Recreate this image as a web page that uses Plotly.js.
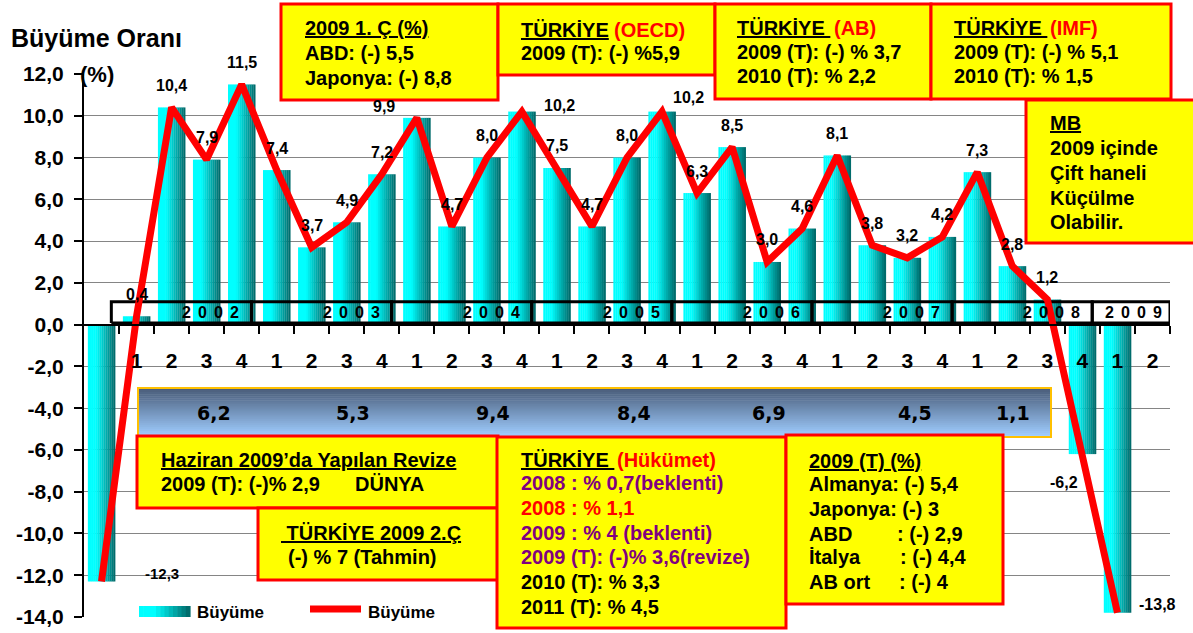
<!DOCTYPE html>
<html><head><meta charset="utf-8">
<script src="https://cdn.plot.ly/plotly-3.0.1.min.js"></script>
<style>html,body{margin:0;padding:0;background:#fff;}#chart{width:1193px;height:633px;}</style>
</head><body><div id="chart"></div>
<script>
// ---------------- DATA ----------------
const quarterLabels = ["", "1","2","3","4","1","2","3","4","1","2","3","4","1","2","3","4",
                       "1","2","3","4","1","2","3","4","1","2","3","4","1","2"];
const growth = [-12.3, 0.4, 10.4, 7.9, 11.5, 7.4, 3.7, 4.9, 7.2, 9.9, 4.7, 8.0, 10.2,
                7.5, 4.7, 8.0, 10.2, 6.3, 8.5, 3.0, 4.6, 8.1, 3.8, 3.2, 4.2, 7.3, 2.8, 1.2,
                -6.2, -13.8, null];
const yearLabels = ["2002","2003","2004","2005","2006","2007","2008","2009"];
const annualGrowth = [6.2, 5.3, 9.4, 8.4, 6.9, 4.5, 1.1];
const yTickVals = [-14,-12,-10,-8,-6,-4,-2,0,2,4,6,8,10,12];
const seriesName = "Büyüme";

// ---------------- GEOMETRY / STYLE ----------------
const W = 1193, H = 633, ML = 84, MT = 74, PW = 1086, PH = 543;
const px = p => (p - ML) / PW;
const py = p => (MT + PH - p) / PH;
const fmt = v => v.toFixed(1).replace('.', ',');
const FONT = 'Liberation Sans, Arial, sans-serif';
const idx = growth.map((_, i) => i);

// label offsets (px) for the data labels
const labelShift = {0: [60, 8], 9: [-33, 11], 12: [38, 6], 16: [26, 14], 28: [-18, -28], 29: [40, 8]};
const bandShift = [25, 24, 24, 25, 19, 25, -17];

const traces = [];
// gradient bars: stripes
const N = 14, BW = 0.78, sw = BW / N;
function tealShade(t) {
  const c = t < 0.3 ? 255 : Math.round(255 - (t - 0.3) / 0.7 * 155);
  return `rgb(0,${c},${c})`;
}
for (let i = 0; i < N; i++) {
  traces.push({
    type: 'bar', x: idx, y: growth, width: sw + 0.006, offset: -BW / 2 + i * sw,
    marker: {color: tealShade((i + 0.5) / N), line: {width: 0}},
    hoverinfo: 'skip', showlegend: false, name: seriesName
  });
}
// year boxes (outlines)
function yearBox(k) {
  const s = 1 + 4 * k, e = Math.min(s + 3, growth.length - 1);
  const last = k === yearLabels.length - 1;
  return [s - 0.5 - 0.22, last ? e + 0.5 : e + 0.5 - 0.22, last];
}
const bx = [], by = [];
yearLabels.forEach((y, k) => {
  const [x0, x1] = yearBox(k);
  bx.push(x0, x1, x1, x0, x0, null);
  by.push(0.08, 0.08, 1.1, 1.1, 0.08, null);
});
traces.push({type: 'scatter', mode: 'lines', x: bx, y: by, line: {color: '#000', width: 3},
  hoverinfo: 'skip', showlegend: false});
// red line
traces.push({type: 'scatter', mode: 'lines', x: idx, y: growth, name: seriesName,
  line: {color: '#FF0000', width: 7}, hoverinfo: 'skip', showlegend: false});

// ---------------- SHAPES ----------------
const shapes = [];
function rect(x0, y0, x1, y1, fill, line, lw) {
  shapes.push({type: 'rect', xref: 'paper', yref: 'paper', x0: px(x0), x1: px(x1), y0: py(y1), y1: py(y0),
    fillcolor: fill, line: {color: line || 'rgba(0,0,0,0)', width: lw || 0}, layer: 'above'});
}
// band gradient
const bandTop = 388, bandBot = 437, NS = 24;
for (let i = 0; i < NS; i++) {
  const t = i / (NS - 1);
  const r = Math.round(74 + t * (160 - 74)), g = Math.round(93 + t * (205 - 93)), b = Math.round(122 + t * (255 - 122));
  const y0 = bandTop + (bandBot - bandTop) * i / NS, y1 = bandTop + (bandBot - bandTop) * (i + 1) / NS + 0.6;
  rect(138, y0, 1051, y1, `rgb(${r},${g},${b})`);
}
rect(138, bandTop, 1051, bandBot, 'rgba(0,0,0,0)', '#FFC000', 2);
// yellow boxes
const Y = '#FFFF00', R = '#FF0000';
rect(281, 4, 498, 100, Y, R, 3);
rect(498, 4, 715, 75, Y, R, 3);
rect(715, 4, 931, 99, Y, R, 3);
rect(931, 4, 1171, 99, Y, R, 3);
rect(1026, 100, 1205, 243, Y, R, 3);
rect(137, 436, 498, 508, Y, R, 3);
rect(258, 508, 498, 580, Y, R, 3);
rect(497, 437, 786, 628, Y, R, 3);
rect(786, 435, 1003, 604, Y, R, 3);
// legend
rect(128, 597, 456, 626, '#FFFFFF');
const NL = 12;
for (let i = 0; i < NL; i++) {
  const x0 = 139 + 51 * i / NL, x1 = 139 + 51 * (i + 1) / NL + 0.6;
  rect(x0, 606, x1, 617, tealShade((i + 0.5) / NL));
}
shapes.push({type: 'line', xref: 'paper', yref: 'paper', x0: px(310), x1: px(361), y0: py(609), y1: py(609),
  line: {color: R, width: 7}, layer: 'above'});

// ---------------- ANNOTATIONS ----------------
const ann = [];
function txt(x, y, text, o) {
  o = o || {};
  ann.push({xref: 'paper', yref: 'paper', x: px(x), y: py(y), xanchor: o.xanchor || 'left', yanchor: 'middle',
    showarrow: false, text: text,
    font: {family: o.family || FONT, size: o.size || 20, weight: 'bold', color: o.color || '#000',
      lineposition: o.u ? 'under' : 'none'}});
}
const PUR = '#800080';
txt(9, 38, 'Büyüme Oranı', {size: 25});
txt(78, 74, '(%)', {size: 22});
// top boxes
txt(303, 28, '2009 1. Ç (%)', {u: 1});
txt(303, 53, 'ABD: (-) 5,5');
txt(303, 78, 'Japonya: (-) 8,8');
txt(519, 30, 'TÜRKİYE', {u: 1});
txt(612, 30, '(OECD)', {color: R});
txt(519, 53, '2009 (T): (-) %5,9');
txt(735, 28, 'TÜRKİYE\u00a0', {u: 1});
txt(832, 28, '(AB)', {color: R});
txt(735, 52, '2009 (T): (-) % 3,7');
txt(735, 76, '2010 (T): % 2,2');
txt(952, 28, 'TÜRKİYE\u00a0', {u: 1});
txt(1048, 28, '(IMF)', {color: R});
txt(952, 52, '2009 (T): (-) % 5,1');
txt(952, 76, '2010 (T): % 1,5');
txt(1048, 123, 'MB', {u: 1});
txt(1048, 148, '2009 içinde');
txt(1048, 173, 'Çift haneli');
txt(1048, 198, 'Küçülme');
txt(1048, 222, 'Olabilir.');
// bottom boxes
txt(159, 460, 'Haziran 2009’da Yapılan Revize', {u: 1});
txt(159, 484, '2009 (T): (-)% 2,9');
txt(353, 484, 'DÜNYA');
txt(279, 533, '\u00a0TÜRKİYE 2009 2.Ç', {u: 1});
txt(286, 557, '(-) % 7 (Tahmin)');
txt(519, 460, 'TÜRKİYE\u00a0', {u: 1});
txt(615, 460, '(Hükümet)', {color: R});
txt(519, 483, '2008 : % 0,7(beklenti)', {color: PUR});
txt(519, 508, '2008 : % 1,1', {color: R});
txt(519, 533, '2009 : % 4 (beklenti)', {color: PUR});
txt(519, 557, '2009 (T): (-)% 3,6(revize)', {color: PUR});
txt(519, 582, '2010 (T): % 3,3');
txt(519, 607, '2011 (T): % 4,5');
txt(807, 461, '2009 (T) (%)', {u: 1});
txt(807, 484, 'Almanya: (-) 5,4');
txt(807, 509, 'Japonya: (-) 3');
txt(807, 534, 'ABD');
txt(895, 534, ': (-) 2,9');
txt(807, 557, 'İtalya');
txt(898, 557, ': (-) 4,4');
txt(807, 582, 'AB ort');
txt(897, 582, ': (-) 4');
// legend texts
txt(195, 612, seriesName, {size: 17});
txt(366, 612, seriesName, {size: 17});

// data labels
growth.forEach((v, i) => {
  if (v === null) return;
  const s = labelShift[i] || [0, 22];
  ann.push({xref: 'x', yref: 'y', x: i, y: v, xshift: s[0], yshift: s[1], showarrow: false,
    text: fmt(v), xanchor: 'center', yanchor: 'middle',
    font: {family: FONT, size: i === 0 ? 15 : 16, weight: 'bold', color: '#000'}});
});
// year labels in boxes
yearLabels.forEach((y, k) => {
  const [x0, x1, last] = yearBox(k);
  ann.push({xref: 'x', yref: 'y', x: x1, y: 0.6, xshift: last ? -6 : -10, xanchor: 'right', yanchor: 'middle',
    showarrow: false, text: y.split('').join('\u2006 '),
    font: {family: FONT, size: 16, weight: 'bold', color: '#000'}});
});
// annual averages in band
annualGrowth.forEach((v, k) => {
  ann.push({xref: 'x', yref: 'paper', x: 2.5 + 4 * k, y: py(413), xshift: bandShift[k],
    xanchor: 'center', yanchor: 'middle', showarrow: false, text: fmt(v),
    font: {family: 'DejaVu Sans, Verdana, sans-serif', size: 19, weight: 'bold', color: '#000'}});
});

const boundaries = [];
for (let i = 0; i <= 30; i++) boundaries.push(i + 0.5);

const layout = {
  width: W, height: H,
  margin: {l: ML, r: W - ML - PW, t: MT, b: H - MT - PH, pad: 0},
  paper_bgcolor: '#fff', plot_bgcolor: '#fff', separators: ',.',
  barmode: 'overlay', showlegend: false,
  font: {family: FONT, color: '#000'},
  xaxis: {range: [-0.5, 30.5], anchor: 'free', position: 14 / 26, showline: true, linecolor: '#000',
    linewidth: 2, showgrid: false, zeroline: false, tickmode: 'array',
    tickvals: idx.slice(1), ticktext: quarterLabels.slice(1), ticks: '',
    ticklabelstandoff: 17, tickfont: {family: FONT, size: 21, weight: 'bold', color: '#000'},
    minor: {tickmode: 'array', tickvals: boundaries, ticks: 'outside', ticklen: 8, tickwidth: 2, tickcolor: '#000', showgrid: false}},
  yaxis: {range: [-14, 12], tickmode: 'array', tickvals: yTickVals, ticktext: yTickVals.map(fmt),
    showline: true, linecolor: '#000', linewidth: 2, ticks: 'outside', ticklen: 8, tickwidth: 2,
    tickcolor: '#000', showgrid: true, gridcolor: '#858585', gridwidth: 1, zeroline: false,
    ticklabelstandoff: 6,
    tickfont: {family: FONT, size: 21, weight: 'bold', color: '#000'}},
  shapes: shapes, annotations: ann
};
Plotly.newPlot('chart', traces, layout, {displayModeBar: false, staticPlot: true});
</script></body></html>
